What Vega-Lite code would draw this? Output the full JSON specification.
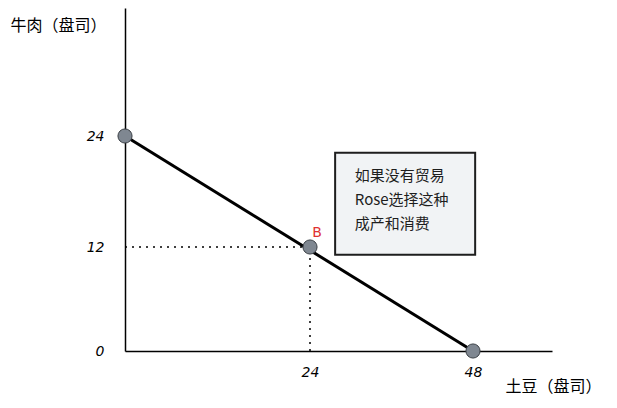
{
  "$schema": "https://vega.github.io/schema/vega-lite/v6.json",
  "width": 427,
  "height": 343,
  "autosize": {"type": "none"},
  "padding": {"left": 125, "top": 8, "right": 65, "bottom": 57},
  "background": "#ffffff",
  "config": {"view": {"stroke": null}},
  "datasets": {
    "guides": [{"x": 0, "x2": 24, "y": 12, "y2": 12}, {"x": 24, "x2": 24, "y": 0, "y2": 12}],
    "ppf": [{"x": 0, "y": 24, "label": ""}, {"x": 24, "y": 12, "label": "B"}, {"x": 48, "y": 0, "label": ""}],
    "ends": [{"x": 0, "y": 24}, {"x": 48, "y": 0}],
    "box": [{"x": 27.7, "x2": 48.3, "y": 22.2, "y2": 11.1}],
    "note": [{"x": 30.6, "y": 20.4, "text": "如果没有贸易\nRose选择这种\n成产和消费"}]
  },
  "encoding": {
    "x": {"field": "x", "type": "quantitative",
      "scale": {"domain": [0, 24, 48, 59], "range": [0, 185, 348, 427], "nice": false, "zero": false},
      "axis": {"values": [24, 48], "grid": false, "ticks": false, "domainColor": "#000000", "domainWidth": 1.5,
        "labelPadding": 14, "labelFontSize": 14, "labelFont": "DejaVu Sans", "labelFontStyle": "italic", "labelColor": "#000000",
        "title": "土豆（盘司）", "titleX": 428, "titleY": 35, "titleAlign": "center", "titleBaseline": "middle",
        "titleFont": "Noto Sans CJK SC", "titleFontSize": 16, "titleFontWeight": "normal", "titleColor": "#000000"}},
    "y": {"field": "y", "type": "quantitative",
      "scale": {"domain": [0, 12, 24, 38], "range": [343, 239, 128, 0], "nice": false, "zero": false},
      "axis": {"values": [0, 12, 24], "grid": false, "ticks": false, "domainColor": "#000000", "domainWidth": 1.5,
        "labelPadding": 21, "labelFontSize": 14, "labelFont": "DejaVu Sans", "labelFontStyle": "italic", "labelColor": "#000000",
        "title": "牛肉（盘司）", "titleAngle": 0, "titleX": -115, "titleY": 17, "titleAlign": "left", "titleBaseline": "middle",
        "titleFont": "Noto Sans CJK SC", "titleFontSize": 16, "titleFontWeight": "normal", "titleColor": "#000000"}}
  },
  "layer": [
    {
      "data": {"name": "ends"},
      "mark": {"type": "line", "color": "#000000", "strokeWidth": 3}
    },
    {
      "data": {"name": "guides"},
      "mark": {"type": "rule", "color": "#000000", "strokeWidth": 1.5, "strokeDash": [2, 5]},
      "encoding": {"x2": {"field": "x2"}, "y2": {"field": "y2"}}
    },
    {
      "data": {"name": "ppf"},
      "mark": {"type": "point", "filled": true, "fill": "#7f8791", "stroke": "#3b4046", "strokeWidth": 1, "opacity": 1, "size": 200}
    },
    {
      "data": {"name": "ppf"},
      "mark": {"type": "text", "color": "#e03131", "fontSize": 14, "font": "DejaVu Sans", "dx": 7, "dy": -14, "align": "center", "baseline": "middle"},
      "encoding": {"text": {"field": "label"}}
    },
    {
      "data": {"name": "box"},
      "mark": {"type": "rect", "fill": "#f1f3f5", "stroke": "#1e1e1e", "strokeWidth": 2},
      "encoding": {"x2": {"field": "x2"}, "y2": {"field": "y2"}}
    },
    {
      "data": {"name": "note"},
      "mark": {"type": "text", "color": "#1e1e1e", "fontSize": 15, "font": "Noto Sans CJK SC", "lineBreak": "\n", "lineHeight": 24, "align": "left", "baseline": "top"},
      "encoding": {"text": {"field": "text"}}
    }
  ]
}
